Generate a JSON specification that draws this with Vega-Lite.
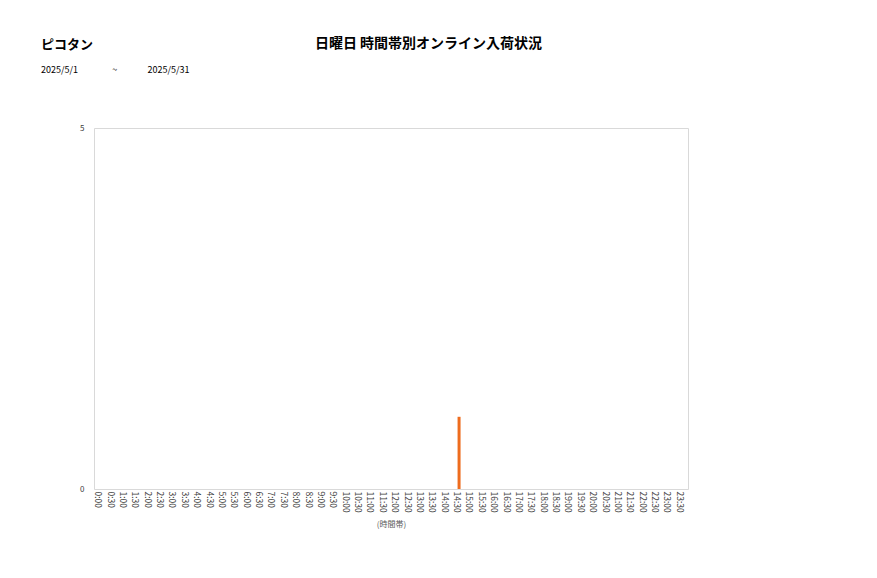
{
  "$schema": "https://vega.github.io/schema/vega-lite/v6.json",
  "autosize": {"type": "none"},
  "width": 594,
  "height": 361,
  "padding": {"left": 94, "top": 128, "right": 189, "bottom": 89},
  "background": "#ffffff",
  "config": {
    "font": "Noto Sans CJK JP",
    "view": {"stroke": "#d9d9d9", "strokeWidth": 1}
  },
  "title": {
    "text": "ピコタン",
    "subtitle": "2025/5/1\u00a0\u00a0\u00a0\u00a0\u00a0\u00a0\u00a0\u00a0\u00a0\u00a0\u00a0\u00a0\u00a0\u00a0\u00a0\u00a0\u00a0~\u00a0\u00a0\u00a0\u00a0\u00a0\u00a0\u00a0\u00a0\u00a0\u00a0\u00a0\u00a0\u00a0\u00a0\u00a02025/5/31",
    "anchor": "start",
    "frame": "group",
    "dx": -53,
    "offset": -39,
    "fontSize": 13,
    "fontWeight": "bold",
    "color": "#000000",
    "subtitleFontSize": 9,
    "subtitleColor": "#000000",
    "subtitlePadding": 14
  },
  "data": {
    "values": [
      {"time": "0:00", "count": 0}, {"time": "0:30", "count": 0},
      {"time": "1:00", "count": 0}, {"time": "1:30", "count": 0},
      {"time": "2:00", "count": 0}, {"time": "2:30", "count": 0},
      {"time": "3:00", "count": 0}, {"time": "3:30", "count": 0},
      {"time": "4:00", "count": 0}, {"time": "4:30", "count": 0},
      {"time": "5:00", "count": 0}, {"time": "5:30", "count": 0},
      {"time": "6:00", "count": 0}, {"time": "6:30", "count": 0},
      {"time": "7:00", "count": 0}, {"time": "7:30", "count": 0},
      {"time": "8:00", "count": 0}, {"time": "8:30", "count": 0},
      {"time": "9:00", "count": 0}, {"time": "9:30", "count": 0},
      {"time": "10:00", "count": 0}, {"time": "10:30", "count": 0},
      {"time": "11:00", "count": 0}, {"time": "11:30", "count": 0},
      {"time": "12:00", "count": 0}, {"time": "12:30", "count": 0},
      {"time": "13:00", "count": 0}, {"time": "13:30", "count": 0},
      {"time": "14:00", "count": 0}, {"time": "14:30", "count": 1},
      {"time": "15:00", "count": 0}, {"time": "15:30", "count": 0},
      {"time": "16:00", "count": 0}, {"time": "16:30", "count": 0},
      {"time": "17:00", "count": 0}, {"time": "17:30", "count": 0},
      {"time": "18:00", "count": 0}, {"time": "18:30", "count": 0},
      {"time": "19:00", "count": 0}, {"time": "19:30", "count": 0},
      {"time": "20:00", "count": 0}, {"time": "20:30", "count": 0},
      {"time": "21:00", "count": 0}, {"time": "21:30", "count": 0},
      {"time": "22:00", "count": 0}, {"time": "22:30", "count": 0},
      {"time": "23:00", "count": 0}, {"time": "23:30", "count": 0}
    ]
  },
  "mark": {"type": "bar", "width": 3, "color": "#ee6c1e"},
  "encoding": {
    "x": {
      "field": "time",
      "type": "ordinal",
      "sort": null,
      "scale": {"paddingInner": 0, "paddingOuter": 0},
      "axis": {
        "title": "(時間帯)",
        "titleFontSize": 8,
        "titleFontWeight": "normal",
        "titleColor": "#595959",
        "titlePadding": 8,
        "labelAngle": 90,
        "labelAlign": "left",
        "labelBaseline": "middle",
        "labelFontSize": 8.5,
        "labelColor": "#404040",
        "labelPadding": 2,
        "labelOffset": -2,
        "ticks": false,
        "domain": false
      }
    },
    "y": {
      "field": "count",
      "type": "quantitative",
      "scale": {"domain": [0, 5], "nice": false},
      "axis": {
        "values": [0, 5],
        "grid": false,
        "ticks": false,
        "domain": false,
        "labelFontSize": 8,
        "labelColor": "#404040",
        "labelPadding": 10,
        "title": "日曜日 時間帯別オンライン入荷状況",
        "titleAngle": 0,
        "titleAlign": "center",
        "titleBaseline": "middle",
        "titleX": 334,
        "titleY": -85,
        "titleFontSize": 14,
        "titleFontWeight": "bold",
        "titleColor": "#000000"
      }
    }
  }
}
